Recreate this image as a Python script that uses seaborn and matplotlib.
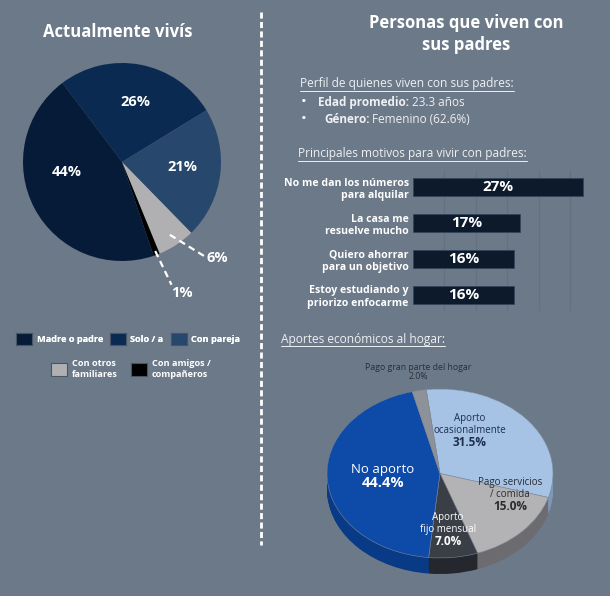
import matplotlib.pyplot as plt
from matplotlib.lines import Line2D
import numpy as np
import seaborn as sns

# Actualmente vivis
vivis_labels = ['Solo / a', 'Con pareja', 'Con otros\nfamiliares', 'Con amigos /\ncompañeros', 'Madre o padre']
vivis_pct = [26, 21, 6, 1, 44]
vivis_colors = ['#0b2a52', '#28476c', '#b0b0b2', '#000000', '#051b38']

# Principales motivos
motivos = ['No me dan los números\npara alquilar', 'La casa me\nresuelve mucho',
           'Quiero ahorrar\npara un objetivo', 'Estoy estudiando y\npriorizo enfocarme']
motivos_pct = [27, 17, 16, 16]

# Aportes economicos
aportes_labels = ['Aporto\nocasionalmente', 'Pago servicios\n/ comida', 'Aporto\nfijo mensual',
                  'No aporto', 'Pago gran parte del hogar']
aportes_pct = [31.5, 15.0, 7.0, 44.4, 2.0]
aportes_top = ['#a6c3e6', '#b3b3b5', '#3a3e47', '#0e4ba9', '#8d9198']
aportes_side = ['#7f98b8', '#6c6c70', '#24272d', '#083a86', '#6a6e74']

BG = '#6c7988'
W, H = 610, 596

sns.set_theme(style='white')
plt.rcParams['font.family'] = ['Open Sans', 'DejaVu Sans']

fig = plt.figure(figsize=(W / 100, H / 100), dpi=100, facecolor=BG)


def px(x, y):
    return x / W, 1 - y / H


def box(x0, y0, x1, y1):
    return [x0 / W, 1 - y1 / H, (x1 - x0) / W, (y1 - y0) / H]


renderer = fig.canvas.get_renderer()


def underlined(x, y, s, size=8.6):
    t = fig.text(*px(x, y), s, color='#eef0f3', fontsize=size, va='center', ha='left')
    bb = t.get_window_extent(renderer)
    yy = (bb.y0 - 0.5) / H
    fig.add_artist(Line2D([bb.x0 / W, bb.x1 / W], [yy, yy], transform=fig.transFigure,
                          color='#eef0f3', lw=0.7))


def bullet(x, y, bold, rest, size=8.5):
    fig.text(*px(301, y), '•', color='white', fontsize=11, va='center', ha='left')
    t = fig.text(*px(x, y), bold, color='#eef0f3', fontsize=size, fontweight='bold', va='center')
    bb = t.get_window_extent(renderer)
    fig.text(bb.x1 / W, px(x, y)[1], rest, color='#eef0f3', fontsize=size, va='center')


# ---------- left: pie ----------
fig.text(*px(118, 32), 'Actualmente vivís', color='white', fontsize=12, fontweight='bold',
         ha='center', va='center')
ax1 = fig.add_axes(box(23, 63, 221, 261))
wedges, _ = ax1.pie(vivis_pct, colors=vivis_colors, startangle=127, counterclock=False,
                    wedgeprops=dict(linewidth=0))
ax1.set_aspect('auto')
ax1.set_xlim(-1, 1)
ax1.set_ylim(-1, 1)

for pos, v in zip([(135, 102), (182, 167), (217, 258), (182, 293), (67, 172)], vivis_pct):
    fig.text(*px(*pos), f'{v}%', color='white', fontsize=10.5, fontweight='bold',
             ha='center', va='center')

# leader lines for the small slices
for w, end, r in [(wedges[2], (0.83, -0.95), 0.88), (wedges[3], (0.50, -1.24), 0.96)]:
    ang = np.deg2rad((w.theta1 + w.theta2) / 2)
    ax1.plot([r * np.cos(ang), end[0]], [r * np.sin(ang), end[1]], color='white', lw=1.6,
             ls=(0, (3, 2)), clip_on=False)

leg_kw = dict(loc='center left', frameon=False, handlelength=1.75, handleheight=1.75,
              handletextpad=0.5, borderpad=0, borderaxespad=0,
              prop=dict(size=6.6, weight='bold'), labelcolor='white')
order = [4, 0, 1]
leg1 = fig.legend([wedges[i] for i in order], [vivis_labels[i] for i in order], ncol=3,
                  bbox_to_anchor=px(16, 339), columnspacing=0.75, **leg_kw)
leg2 = fig.legend([wedges[i] for i in [2, 3]], [vivis_labels[i] for i in [2, 3]], ncol=2,
                  bbox_to_anchor=px(51, 369), columnspacing=1.5, **leg_kw)
fig.add_artist(leg1)
for leg in (leg1, leg2):
    for h in leg.legend_handles:
        h.set_edgecolor('#4a5564')
        h.set_linewidth(0.8)

# divider
fig.add_artist(Line2D([261 / W, 261 / W], [1 - 12 / H, 1 - 545 / H], transform=fig.transFigure,
                      color='white', lw=2, ls=(0, (2.2, 1.2))))

# ---------- right: texts ----------
fig.text(*px(466, 34), 'Personas que viven con\nsus padres', color='white', fontsize=12,
         fontweight='bold', ha='center', va='center', linespacing=1.3)
underlined(300, 84, 'Perfil de quienes viven con sus padres:')
bullet(318, 103, 'Edad promedio:', ' 23.3 años')
bullet(324, 120, 'Género:', ' Femenino (62.6%)')
underlined(298, 154, 'Principales motivos para vivir con padres:')
underlined(281, 339, 'Aportes económicos al hogar:')

# ---------- bars ----------
ax2 = fig.add_axes(box(413, 171, 592.5, 311))
sns.barplot(x=motivos_pct, y=motivos, orient='h', color='#0d1a2c', saturation=1, width=0.5,
            edgecolor='#34455a', linewidth=0.6, ax=ax2)
ax2.set_facecolor('none')
ax2.set_xlim(0, 28.5)
ax2.set_ylim(3.45, -0.45)
ax2.set_xticks([5, 10, 15, 20, 25])
ax2.set_xticklabels([])
ax2.grid(axis='x', color='#637080', lw=0.9)
ax2.set_axisbelow(True)
ax2.tick_params(length=0, pad=3)
for lab in ax2.get_yticklabels():
    lab.set_color('white')
    lab.set_fontsize(7.6)
    lab.set_fontweight('bold')
for s in ax2.spines.values():
    s.set_visible(False)
ax2.bar_label(ax2.containers[0], labels=[f'{v}%' for v in motivos_pct], label_type='center',
              color='white', fontsize=11, fontweight='bold')

# ---------- 3D pie ----------
ax3 = fig.add_axes(box(327, 389, 553, 574))
depth = 0.19
for off in np.linspace(depth, 0.0, 18):
    ax3.pie(aportes_pct, colors=aportes_side, startangle=97, counterclock=False,
            center=(0, -off), wedgeprops=dict(linewidth=0))
ax3.pie(aportes_pct, colors=aportes_top, startangle=97, counterclock=False,
        wedgeprops=dict(linewidth=0.4, edgecolor='#7d8896'))
ax3.set_aspect('auto')
ax3.set_xlim(-1, 1)
ax3.set_ylim(-1 - depth, 1)

txt = [((470, 436), '#1e2f4e', 7, 8.5), ((510, 500), '#2b2b2e', 7, 8.5),
       ((448, 535), 'white', 7, 8.5), ((383, 476), 'white', 9.5, 10.5),
       ((418, 372), '#2a2f38', 6.3, 6.3)]
for (pos, col, s1, s2), name, v in zip(txt, aportes_labels, aportes_pct):
    x, y = px(*pos)
    fig.text(x, y, name, color=col, fontsize=s1, ha='center', va='bottom', linespacing=1.15)
    fig.text(x, y, f'{v:.1f}%', color=col, fontsize=s2, ha='center', va='top',
             fontweight='normal' if s2 < 7 else 'bold')

fig.savefig('out.png', dpi=100, facecolor=BG)
